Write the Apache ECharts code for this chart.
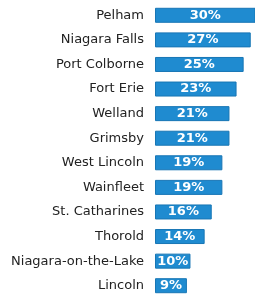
<!DOCTYPE html>
<html>
<head>
<meta charset="utf-8">
<script src="https://cdn.jsdelivr.net/npm/echarts@6/dist/echarts.min.js"></script>
<style>
  html, body { margin: 0; padding: 0; background: #fff; }
  #chart { width: 255px; height: 298px; }
</style>
</head>
<body>
<div id="chart"></div>
<script>
// municipalities, top to bottom
var towns = ["Pelham", "Niagara Falls", "Port Colborne", "Fort Erie", "Welland", "Grimsby",
  "West Lincoln", "Wainfleet", "St. Catharines", "Thorold", "Niagara-on-the-Lake", "Lincoln"];
var percents = [30, 27, 25, 23, 21, 21, 19, 19, 16, 14, 10, 9];

var chartDom = document.getElementById("chart");
var myChart = echarts.init(chartDom);
var option = {
  animation: false,
  grid: {
    left: 155,
    right: 0,
    top: 3,
    height: 297.6,
  },
  xAxis: {
    type: "value",
    min: 0,
    max: 28.2,
    show: false,
  },
  yAxis: {
    type: "category",
    inverse: true,
    data: towns,
    axisLine: { show: false },
    axisTick: { show: false },
    axisLabel: {
      margin: 11,
      color: "#222",
      fontFamily: "DejaVu Sans",
      fontSize: 13,
    },
  },
  series: [
    {
      type: "bar",
      data: percents,
      barWidth: 15,
      itemStyle: {
        color: "#1f8bd0",
        borderColor: "#1876b5",
        borderWidth: 1,
      },
      label: {
        show: true,
        position: "inside",
        formatter: "{c}%",
        color: "#fff",
        fontFamily: "DejaVu Sans",
        fontWeight: "bold",
        fontSize: 13,
      },
    },
  ],
};
myChart.setOption(option);
</script>
</body>
</html>
